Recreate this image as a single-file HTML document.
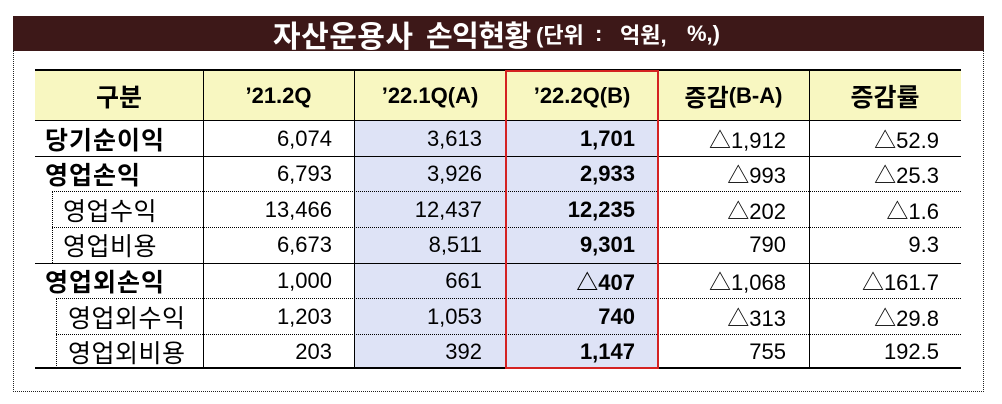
<!DOCTYPE html>
<html><head><meta charset="utf-8">
<style>
*{margin:0;padding:0;box-sizing:border-box}
html,body{width:1002px;height:404px;background:#fff;overflow:hidden}
body{position:relative;font-family:"Liberation Sans","Noto Sans CJK KR",sans-serif;color:#000}
.a{position:absolute}
.t{position:absolute;color:#fff;font-weight:bold;font-family:"Liberation Sans","Noto Sans CJK KR",sans-serif;height:35px;top:16px;white-space:nowrap;display:flex;align-items:center}
.cell{position:absolute;display:flex;align-items:center;white-space:nowrap;font-size:22px;height:35px}
.r{justify-content:flex-end}
.c{justify-content:center;font-weight:bold}
.b{font-weight:bold}
.lab{font-family:"Noto Sans CJK KR","Liberation Sans",sans-serif;font-size:25px;letter-spacing:0.5px}
.lb{letter-spacing:1px}
.hl{position:absolute;height:0}
.vl{position:absolute;width:0}
</style></head><body>
<!-- title bar -->
<div class="a" style="left:13px;top:16px;width:971px;height:35px;background:#3d1818"></div>
<div class="t" style="left:273px;font-size:30px;letter-spacing:0.5px">자산운용사</div>
<div class="t" style="left:426px;font-size:29px;letter-spacing:-0.5px">손익현황</div>
<div class="t" style="left:536px;font-size:22px">(단위</div>
<div class="t" style="left:595px;font-size:22px">:</div>
<div class="t" style="left:620px;font-size:22px">억원,</div>
<div class="t" style="left:687px;font-size:22px">%,)</div>

<!-- dotted frame -->
<div class="a" style="left:13px;top:50px;width:971px;height:342px;border:1px dotted #222;border-top:none"></div>

<!-- backgrounds -->
<div class="a" style="left:35px;top:70px;width:926px;height:50px;background:#f8f7c1"></div>
<div class="a" style="left:354px;top:120px;width:304px;height:248px;background:#dee3f6"></div>

<!-- horizontal lines -->
<div class="hl" style="left:35px;top:69px;width:926px;border-top:2px solid #000"></div>
<div class="hl" style="left:35px;top:120px;width:926px;border-top:1px solid #000"></div>
<div class="hl" style="left:35px;top:156px;width:926px;border-top:1px solid #000"></div>
<div class="hl" style="left:52px;top:191px;width:909px;border-top:1px dotted #000"></div>
<div class="hl" style="left:52px;top:227px;width:909px;border-top:1px dotted #000"></div>
<div class="hl" style="left:35px;top:263px;width:926px;border-top:1px solid #000"></div>
<div class="hl" style="left:56px;top:298px;width:905px;border-top:1px dotted #000"></div>
<div class="hl" style="left:56px;top:334px;width:905px;border-top:1px dotted #000"></div>
<div class="hl" style="left:35px;top:367px;width:926px;border-top:2px solid #000"></div>

<!-- vertical lines -->
<div class="vl" style="left:203px;top:70px;height:298px;border-left:1px solid #000"></div>
<div class="vl" style="left:354px;top:70px;height:298px;border-left:1px solid #000"></div>
<div class="vl" style="left:809px;top:70px;height:298px;border-left:1px solid #000"></div>
<div class="vl" style="left:52px;top:191px;height:72px;border-left:1px dotted #000"></div>
<div class="vl" style="left:56px;top:298px;height:70px;border-left:1px dotted #000"></div>
<!-- red box -->
<div class="a" style="left:505px;top:70px;width:154px;height:299px;border:2px solid #d42222"></div>

<!-- header -->
<div class="cell c lab" style="left:35px;top:78px;width:168px;font-size:25px;letter-spacing:0">구분</div>
<div class="cell c" style="left:203px;top:78px;width:151px">’21.2Q</div>
<div class="cell c" style="left:354px;top:78px;width:152px">’22.1Q(A)</div>
<div class="cell c" style="left:506px;top:78px;width:152px">’22.2Q(B)</div>
<div class="cell c" style="left:658px;top:78px;width:151px"><span class="lab" style="font-size:24px;letter-spacing:0">증감</span>(B-A)</div>
<div class="cell c lab" style="left:809px;top:78px;width:152px;font-size:25px;letter-spacing:0">증감률</div>

<!-- row 1 -->
<div class="cell lab b lb" style="left:45px;top:121px">당기순이익</div>
<div class="cell r" style="left:203px;top:121px;width:129px">6,074</div>
<div class="cell r" style="left:354px;top:121px;width:128px">3,613</div>
<div class="cell r b" style="left:506px;top:121px;width:129px">1,701</div>
<div class="cell r" style="left:657px;top:121px;width:129px">△1,912</div>
<div class="cell r" style="left:809px;top:121px;width:130px">△52.9</div>

<!-- row 2 -->
<div class="cell lab b lb" style="left:45px;top:156px">영업손익</div>
<div class="cell r" style="left:203px;top:156px;width:129px">6,793</div>
<div class="cell r" style="left:354px;top:156px;width:128px">3,926</div>
<div class="cell r b" style="left:506px;top:156px;width:129px">2,933</div>
<div class="cell r" style="left:657px;top:156px;width:129px">△993</div>
<div class="cell r" style="left:809px;top:156px;width:130px">△25.3</div>

<!-- row 3 -->
<div class="cell lab" style="left:63px;top:192px">영업수익</div>
<div class="cell r" style="left:203px;top:192px;width:129px">13,466</div>
<div class="cell r" style="left:354px;top:192px;width:128px">12,437</div>
<div class="cell r b" style="left:506px;top:192px;width:129px">12,235</div>
<div class="cell r" style="left:657px;top:192px;width:129px">△202</div>
<div class="cell r" style="left:809px;top:192px;width:130px">△1.6</div>

<!-- row 4 -->
<div class="cell lab" style="left:63px;top:227px">영업비용</div>
<div class="cell r" style="left:203px;top:227px;width:129px">6,673</div>
<div class="cell r" style="left:354px;top:227px;width:128px">8,511</div>
<div class="cell r b" style="left:506px;top:227px;width:129px">9,301</div>
<div class="cell r" style="left:657px;top:227px;width:129px">790</div>
<div class="cell r" style="left:809px;top:227px;width:130px">9.3</div>

<!-- row 5 -->
<div class="cell lab b lb" style="left:45px;top:263px">영업외손익</div>
<div class="cell r" style="left:203px;top:263px;width:129px">1,000</div>
<div class="cell r" style="left:354px;top:263px;width:128px">661</div>
<div class="cell r b" style="left:506px;top:263px;width:129px">△407</div>
<div class="cell r" style="left:657px;top:263px;width:129px">△1,068</div>
<div class="cell r" style="left:809px;top:263px;width:130px">△161.7</div>

<!-- row 6 -->
<div class="cell lab" style="left:68px;top:299px">영업외수익</div>
<div class="cell r" style="left:203px;top:299px;width:129px">1,203</div>
<div class="cell r" style="left:354px;top:299px;width:128px">1,053</div>
<div class="cell r b" style="left:506px;top:299px;width:129px">740</div>
<div class="cell r" style="left:657px;top:299px;width:129px">△313</div>
<div class="cell r" style="left:809px;top:299px;width:130px">△29.8</div>

<!-- row 7 -->
<div class="cell lab" style="left:68px;top:334px">영업외비용</div>
<div class="cell r" style="left:203px;top:334px;width:129px">203</div>
<div class="cell r" style="left:354px;top:334px;width:128px">392</div>
<div class="cell r b" style="left:506px;top:334px;width:129px">1,147</div>
<div class="cell r" style="left:657px;top:334px;width:129px">755</div>
<div class="cell r" style="left:809px;top:334px;width:130px">192.5</div>
</body></html>
